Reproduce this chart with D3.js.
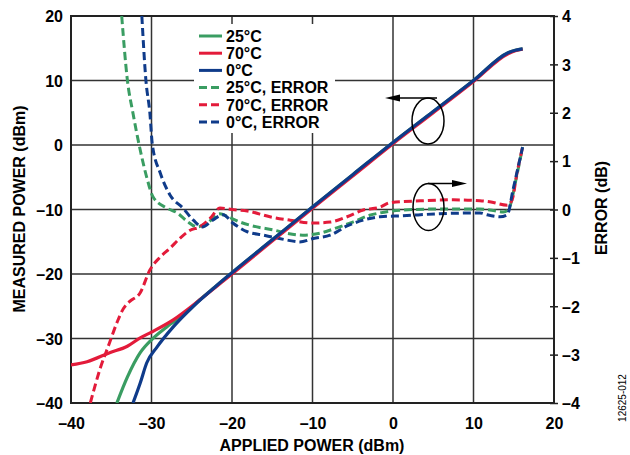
<!DOCTYPE html>
<html><head><meta charset="utf-8">
<script src="https://cdn.jsdelivr.net/npm/d3@7"></script>
<style>
body{margin:0;background:#fff;}
text{font-family:"Liberation Sans",Arial,sans-serif;font-weight:bold;}
</style></head>
<body><svg id="c" width="630" height="455"></svg>
<script>
// ---- data ----
const xTicks = [-40,-30,-20,-10,0,10,20];
const yTicks = [-40,-30,-20,-10,0,10,20];
const errTicks = [-4,-3,-2,-1,0,1,2,3,4];

// measured power (left axis) [applied, measured]
const meas25 = [[-34.3,-40],[-33.0,-36.0],[-31.4,-32.2],[-30,-30.2],[-28.1,-28.2],[-25.6,-25.9],[-24,-24.0],[-22,-21.9],[-20,-19.8],[-15,-14.7],[-10,-9.6],[-5,-4.6],[0,0.4],[5,5.2],[10,10],[14.3,14.3],[15.2,14.7],[16.1,14.9]];
const meas70 = [[-40,-34.1],[-38,-33.6],[-35.2,-32.2],[-33,-31.2],[-31.4,-29.9],[-30,-29.0],[-27.3,-27.1],[-24,-24.0],[-22,-22.0],[-20,-20],[-15,-14.9],[-10,-9.8],[-5,-4.8],[0,0.2],[5,5.0],[10,9.85],[14.3,14.15],[15.2,14.6],[16.1,14.85]];
const meas0 = [[-32.3,-40],[-31.4,-36.9],[-30.6,-33.8],[-29.3,-31.3],[-27.3,-28.2],[-24.8,-25.0],[-22,-21.9],[-20,-19.8],[-15,-14.7],[-10,-9.6],[-5,-4.6],[0,0.4],[5,5.2],[10,10],[14.3,14.3],[15.2,14.7],[16.1,14.9]];

// error (right axis) [applied, error dB]
const err25 = [[-33.7,4],[-33.0,2.68],[-32.3,1.99],[-31.4,1.23],[-30.6,0.67],[-29.8,0.26],[-28.1,0.03],[-26.8,-0.07],[-25.6,-0.24],[-24.3,-0.36],[-23.1,-0.28],[-21.5,-0.09],[-20.5,-0.15],[-19,-0.26],[-16.9,-0.36],[-14.9,-0.42],[-13.2,-0.49],[-11.2,-0.53],[-9.1,-0.49],[-7,-0.38],[-5,-0.26],[-2.9,-0.12],[-1.6,-0.07],[1.2,-0.01],[5.5,0.01],[10.8,0.01],[12,-0.01],[13.7,-0.05],[14.3,-0.01],[15.4,0.72],[16.1,1.29]];
const err70 = [[-37.6,-4],[-36.4,-3.3],[-35.2,-2.75],[-34.2,-2.3],[-33.5,-2.05],[-32.7,-1.9],[-31.4,-1.72],[-30.2,-1.25],[-28.9,-0.98],[-27.7,-0.8],[-26.5,-0.6],[-25.2,-0.43],[-24,-0.36],[-22.7,-0.18],[-21.5,0.03],[-20,0],[-18.1,-0.03],[-15.3,-0.15],[-12.8,-0.22],[-9.9,-0.28],[-7.8,-0.26],[-5.7,-0.15],[-3.7,-0.01],[-1.6,0.05],[-0.4,0.14],[3.4,0.18],[7.5,0.2],[10.8,0.18],[12,0.16],[14.2,0.09],[14.8,0.2],[15.4,0.75],[16.1,1.29]];
const err0 = [[-31.2,4],[-30.7,2.68],[-30.2,1.99],[-29.9,1.35],[-28.9,0.75],[-27.7,0.3],[-26.1,0.03],[-24.8,-0.22],[-23.7,-0.36],[-22.4,-0.22],[-21.1,-0.11],[-19.9,-0.28],[-18.1,-0.46],[-16.1,-0.53],[-14.4,-0.59],[-13.2,-0.63],[-11.6,-0.67],[-9.9,-0.6],[-7.8,-0.53],[-5.7,-0.34],[-3.7,-0.22],[-1.6,-0.15],[1.2,-0.13],[5.5,-0.09],[10.8,-0.07],[11.7,-0.11],[13.3,-0.15],[14.2,-0.11],[14.9,0.4],[16.1,1.29]];

const legendLabels = ["25°C","70°C","0°C","25°C, ERROR","70°C, ERROR","0°C, ERROR"];
const colors = {g:"#3a9d62", r:"#e31b3a", b:"#0f3b8a"};

// ---- chart ----
const svg = d3.select("#c");
const L=71,R=554,T=16,B=403;
const x = d3.scaleLinear().domain([-40,20]).range([L,R]);
const yL = d3.scaleLinear().domain([-40,20]).range([B,T]);
const yR = d3.scaleLinear().domain([-4,4]).range([B,T]);
const fmt = v => v<0 ? "\u2013"+Math.abs(v) : String(v);

svg.append("defs").append("clipPath").attr("id","clip")
  .append("rect").attr("x",L).attr("y",T).attr("width",R-L).attr("height",B-T);

// grid
const grid = svg.append("g").attr("stroke","#333").attr("stroke-width",1.5);
grid.selectAll(".vx").data(xTicks.slice(1,-1)).join("line")
  .attr("x1",d=>x(d)).attr("x2",d=>x(d)).attr("y1",T).attr("y2",B);
grid.selectAll(".hy").data(yTicks.slice(1,-1)).join("line")
  .attr("y1",d=>yL(d)).attr("y2",d=>yL(d)).attr("x1",L).attr("x2",R);

// legend background (hides grid)
svg.append("rect").attr("x",194).attr("y",24).attr("width",141).attr("height",109).attr("fill","#fff");

// border
svg.append("rect").attr("x",L).attr("y",T).attr("width",R-L).attr("height",B-T)
  .attr("fill","none").attr("stroke","#222").attr("stroke-width",2);

// axes labels
const bottomAxis = d3.axisBottom(x).tickValues(xTicks).tickSize(0).tickFormat(fmt);
const gb = svg.append("g").attr("transform",`translate(0,${B})`).call(bottomAxis);
gb.select(".domain").remove();
gb.selectAll("text").attr("dy",null).attr("y",26).attr("font-size",16).attr("fill","#000");

const leftAxis = d3.axisLeft(yL).tickValues(yTicks).tickSize(0).tickFormat(fmt);
const gl = svg.append("g").attr("transform",`translate(${L},0)`).call(leftAxis);
gl.select(".domain").remove();
gl.selectAll("text").attr("x",-8).attr("dy","0.36em").attr("font-size",16).attr("fill","#000");

const rightAxis = d3.axisRight(yR).tickValues(errTicks).tickSize(4).tickFormat(fmt);
const gr = svg.append("g").attr("transform",`translate(${R},0)`).call(rightAxis);
gr.select(".domain").remove();
gr.selectAll(".tick line").attr("x1",-4).attr("x2",4).attr("stroke","#222").attr("stroke-width",1.5);
gr.selectAll("text").attr("x",8).attr("dy","0.36em").attr("font-size",16).attr("fill","#000");

// titles
svg.append("text").attr("x",312).attr("y",451).attr("text-anchor","middle").attr("font-size",16).text("APPLIED POWER (dBm)");
svg.append("text").attr("transform","translate(25,209) rotate(-90)").attr("text-anchor","middle").attr("font-size",16).text("MEASURED POWER (dBm)");
svg.append("text").attr("transform","translate(607,208) rotate(-90)").attr("text-anchor","middle").attr("font-size",16).text("ERROR (dB)");
svg.append("text").attr("transform","translate(626,398) rotate(-90)").attr("text-anchor","middle").attr("font-size",10).attr("font-weight","normal").style("font-weight","normal").text("12625-012");

// series
const lineL = d3.line().x(d=>x(d[0])).y(d=>yL(d[1])).curve(d3.curveMonotoneX);
const lineR = d3.line().x(d=>x(d[0])).y(d=>yR(d[1])).curve(d3.curveMonotoneX);
const plot = svg.append("g").attr("clip-path","url(#clip)").attr("fill","none");
const dash = "8,4";
plot.append("path").datum(err25).attr("d",lineR).attr("stroke",colors.g).attr("stroke-width",3).attr("stroke-dasharray",dash);
plot.append("path").datum(err70).attr("d",lineR).attr("stroke",colors.r).attr("stroke-width",3).attr("stroke-dasharray",dash);
plot.append("path").datum(err0).attr("d",lineR).attr("stroke",colors.b).attr("stroke-width",3).attr("stroke-dasharray",dash);
plot.append("path").datum(meas25).attr("d",lineL).attr("stroke",colors.g).attr("stroke-width",3.2);
plot.append("path").datum(meas70).attr("d",lineL).attr("stroke",colors.r).attr("stroke-width",3.2);
plot.append("path").datum(meas0).attr("d",lineL).attr("stroke",colors.b).attr("stroke-width",3.2);

// legend
const legColors=[colors.g,colors.r,colors.b,colors.g,colors.r,colors.b];
const lg = svg.append("g");
legendLabels.forEach((t,i)=>{
  const yy = 36 + i*17.2;
  lg.append("line").attr("x1",199).attr("x2",222).attr("y1",yy).attr("y2",yy)
    .attr("stroke",legColors[i]).attr("stroke-width",3)
    .attr("stroke-dasharray", i>=3 ? "8,4" : null);
  lg.append("text").attr("x",226).attr("y",yy).attr("dy","0.36em").attr("font-size",16).text(t);
});

// annotations
const ann = svg.append("g").attr("stroke","#000").attr("stroke-width",1.5).attr("fill","none");
ann.append("ellipse").attr("cx",428).attr("cy",121).attr("rx",16).attr("ry",23);
ann.append("line").attr("x1",398).attr("x2",437).attr("y1",98).attr("y2",98);
svg.append("path").attr("d","M385,98 L400,94.5 L400,101.5 Z").attr("fill","#000");
ann.append("ellipse").attr("cx",428.5).attr("cy",207).attr("rx",15.5).attr("ry",23.5);
ann.append("line").attr("x1",428).attr("x2",455).attr("y1",183.5).attr("y2",183.5);
svg.append("path").attr("d","M467,183.5 L452,180 L452,187 Z").attr("fill","#000");
</script></body></html>
